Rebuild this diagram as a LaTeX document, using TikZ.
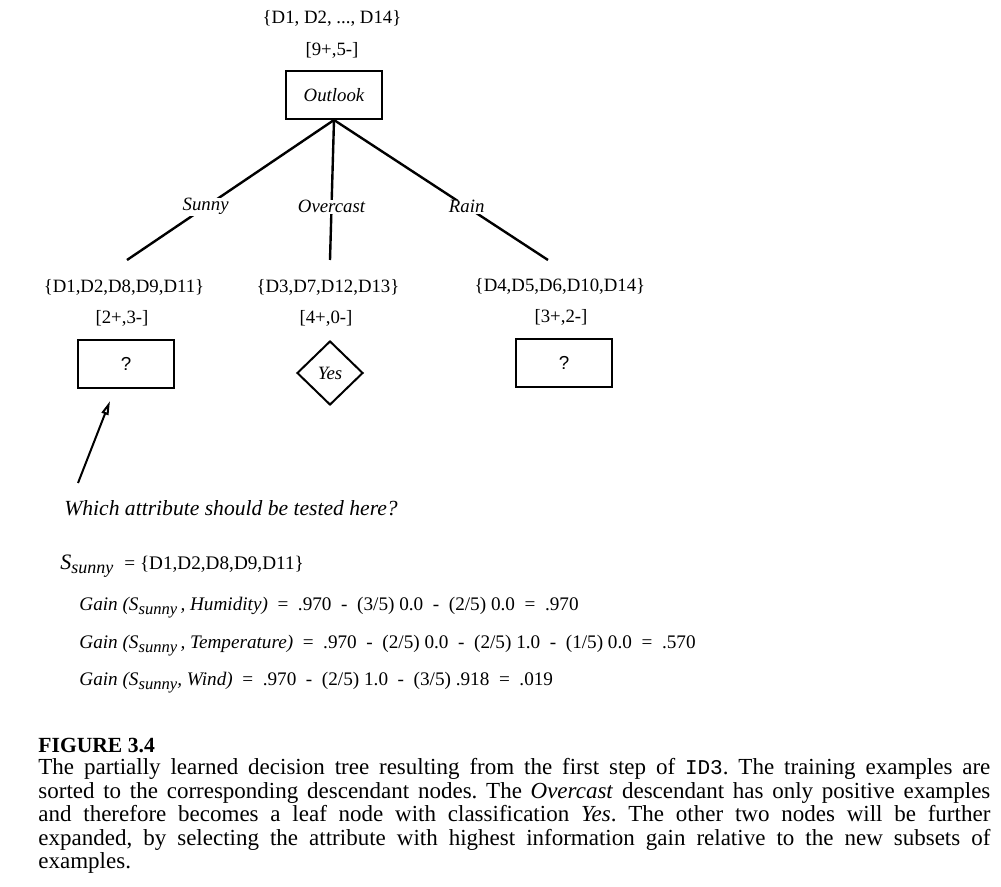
\documentclass[tikz,border=0pt]{standalone}
\usepackage{fontspec}
\setmainfont{Liberation Serif}
\setsansfont{Liberation Sans}
\setmonofont{Liberation Mono}
\usetikzlibrary{shapes.geometric,arrows.meta}

% S with the subscript sunny, at a given subscript size
\newcommand{\Ssunny}[1]{\textit{S}\raisebox{-0.45ex}{\fontsize{#1}{#1}\selectfont\itshape sunny}}

\begin{document}
\begin{tikzpicture}[x=0.5pt, y=-0.5pt,
        every node/.style={inner sep=0pt, font=\fontsize{9.4}{11}\selectfont},
        attr/.style={draw, line width=1pt, minimum width=48pt, minimum height=24pt, font=\fontsize{9.4}{11}\selectfont\itshape},
        qbox/.style={draw, line width=1pt, minimum width=48pt, minimum height=24pt, font=\fontsize{9.4}{11}\selectfont\sffamily},
        leaf/.style={draw, diamond, line width=1pt, minimum width=33pt, minimum height=32pt, font=\fontsize{9.4}{11}\selectfont\itshape},
        branch/.style={fill=white, inner sep=0.4pt, font=\fontsize{9.4}{11}\selectfont\itshape},
        tree/.style={line width=1.2pt},
        gain/.style={anchor=west, font=\fontsize{9.6}{11}\selectfont}]
        \useasboundingbox (0,0) rectangle (1001,887);

        \node (rootset) at (332,18) {\{D1, D2, ..., D14\}};
        \node (rootcnt) at (332,50) {[9+,5-]};
        \node[attr] (outlook) at (334,95) {Outlook};

        \node (setL) at (124,287) {\{D1,D2,D8,D9,D11\}};
        \node (setM) at (328,287) {\{D3,D7,D12,D13\}};
        \node (setR) at (560,286) {\{D4,D5,D6,D10,D14\}};
        \node (cntL) at (122,318) {[2+,3-]};
        \node (cntM) at (326,318) {[4+,0-]};
        \node (cntR) at (561,317) {[3+,2-]};
        \node[qbox] (qL) at (126,364) {?};
        \node[leaf] (yes) at (330,373) {Yes};
        \node[qbox] (qR) at (564,363) {?};

        \coordinate (endL) at (127,260);
        \coordinate (endM) at (330,260);
        \coordinate (endR) at (548,260);
        \draw[tree] (outlook.south) -- node[branch, pos=0.62] {Sunny} (endL);
        \draw[tree] (outlook.south) -- node[branch, pos=0.62] {Overcast} (endM);
        \draw[tree] (outlook.south) -- node[branch, pos=0.62] {Rain} (endR);

        \coordinate (askfoot) at (78,483);
        \draw[line width=1pt, -{Triangle[open, length=7pt, width=3.5pt]}] (askfoot) -- ([xshift=-8pt, yshift=-6pt]qL.south);
        \node[anchor=west, font=\fontsize{10.8}{13}\selectfont\itshape] (ask) at (64,508) {Which attribute should be tested here?};

        \node[anchor=west, font=\fontsize{9.6}{12}\selectfont] (ssunny) at (60,566) {\fontsize{11}{12}\selectfont\Ssunny{9}\enspace\fontsize{9.6}{12}\selectfont= \{D1,D2,D8,D9,D11\}};
        \node[gain] (g1) at (79,608) {\textit{Gain (\Ssunny{8.3}\,, Humidity)}\enspace=\enspace.970\enspace-\enspace(3/5)~0.0\enspace-\enspace(2/5)~0.0\enspace=\enspace.970};
        \node[gain] (g2) at (79,646) {\textit{Gain (\Ssunny{8.3}\,, Temperature)}\enspace=\enspace.970\enspace-\enspace(2/5)~0.0\enspace-\enspace(2/5)~1.0\enspace-\enspace(1/5)~0.0\enspace=\enspace.570};
        \node[gain] (g3) at (79,683) {\textit{Gain (\Ssunny{8.3}, Wind)}\enspace=\enspace.970\enspace-\enspace(2/5)~1.0\enspace-\enspace(3/5)~.918\enspace=\enspace.019};

        \node[anchor=west, font=\fontsize{10.8}{12}\selectfont\bfseries] (fignum) at (38,745) {FIGURE 3.4};
        \node[anchor=north west, text width=476pt, align=justify, font=\fontsize{11.5}{11.75}\selectfont\frenchspacing] (caption) at (38,758) {The partially learned decision tree resulting from the first step of {\fontsize{10.5}{11.75}\selectfont\texttt{ID3}}. The training examples are\linebreak
        sorted to the corresponding descendant nodes. The \textit{Overcast} descendant has only positive examples\linebreak
        and therefore becomes a leaf node with classification \textit{Yes}. The other two nodes will be further\linebreak
        expanded, by selecting the attribute with highest information gain relative to the new subsets of\linebreak
        examples.};
    \end{tikzpicture}
\end{document}
